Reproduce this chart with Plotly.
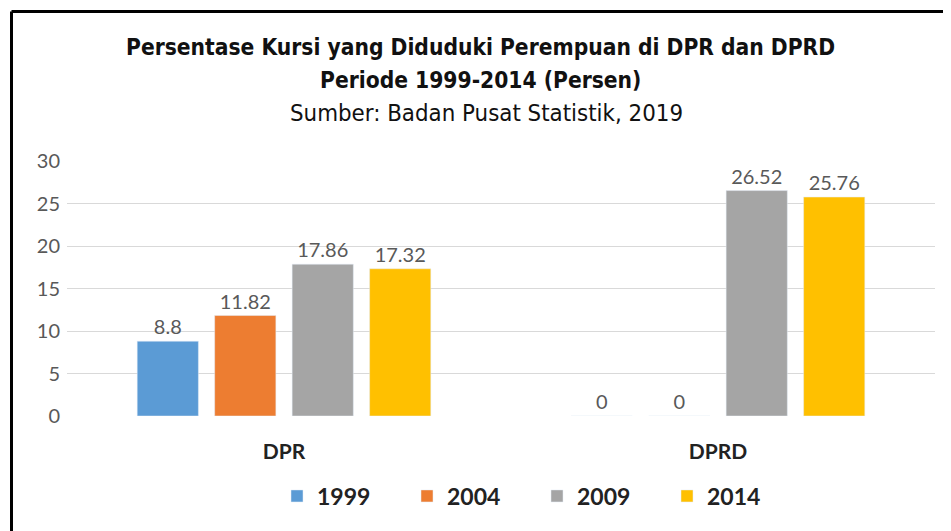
import plotly.graph_objects as go

categories = ["DPR", "DPRD"]
years = ["1999", "2004", "2009", "2014"]
values_1999 = [8.8, 0]
values_2004 = [11.82, 0]
values_2009 = [17.86, 26.52]
values_2014 = [17.32, 25.76]
series = [values_1999, values_2004, values_2009, values_2014]
colors = ["#5B9BD5", "#ED7D31", "#A5A5A5", "#FFC000"]
y_ticks = [0, 5, 10, 15, 20, 25, 30]

fig = go.Figure()
for yr, vals, col in zip(years, series, colors):
    fig.add_trace(go.Bar(
        name=yr, x=categories, y=vals, marker_color=col,
        text=[f"{v:g}" for v in vals], textposition="outside",
        textfont=dict(family="Lato, Open Sans, sans-serif", size=20, color="#595959"),
        cliponaxis=False,
    ))

OFF = 8  # page body margin
W, H = 951 - OFF, 531 - OFF
# plot area in page pixels
PL, PR, PT, PB = 67, 935, 161, 416
L = PL - OFF
R = W - (PR - OFF)
T = PT - OFF
B = H - (PB - OFF)
pw = PR - PL
ph = PB - PT

def px_x(x):
    return (x - PL) / pw

def px_y(y):
    return 1 - (y - PT) / ph

title_font = "DejaVu Sans Condensed, Liberation Sans Narrow, Arial Narrow, sans-serif"
annotations = [
    dict(text="<b>Persentase Kursi yang Diduduki Perempuan di DPR dan DPRD</b>",
         x=px_x(480), y=px_y(47), font=dict(family=title_font, size=22.6, color="#111111")),
    dict(text="<b>Periode 1999-2014 (Persen)</b>",
         x=px_x(480), y=px_y(80), font=dict(family=title_font, size=22.6, color="#111111")),
    dict(text="Sumber: Badan Pusat Statistik, 2019",
         x=px_x(486), y=px_y(113), font=dict(family=title_font, size=23.8, color="#111111")),
]
for a in annotations:
    a.update(xref="paper", yref="paper", showarrow=False, xanchor="center", yanchor="middle")

bx = px_x(11.5)
by = px_y(11.5)
shapes = [
    dict(type="line", xref="paper", yref="paper", x0=bx, x1=bx, y0=px_y(540), y1=by,
         line=dict(color="black", width=3)),
    dict(type="line", xref="paper", yref="paper", x0=bx, x1=px_x(960), y0=by, y1=by,
         line=dict(color="black", width=3)),
]

fig.update_layout(
    width=W, height=H,
    margin=dict(l=L, r=R, t=T, b=B, autoexpand=False),
    paper_bgcolor="white", plot_bgcolor="white",
    barmode="group", bargap=0.286, bargroupgap=0.21,
    annotations=annotations, shapes=shapes,
    legend=dict(orientation="h", x=px_x(277), y=px_y(496), xanchor="left", yanchor="middle",
                entrywidth=85, entrywidthmode="pixels",
                font=dict(family="Lato, Open Sans, sans-serif", size=23, color="#222222", weight="bold")),
    showlegend=True,
)
fig.update_yaxes(range=[0, 30], tickvals=y_ticks, showgrid=True, gridcolor="#D9D9D9", gridwidth=1,
                 zeroline=False, showline=False,
                 tickfont=dict(family="Lato, Open Sans, sans-serif", size=20, color="#595959"),
                 ticks="outside", ticklen=2, tickcolor="rgba(0,0,0,0)")
fig.update_xaxes(showline=False, ticks="outside", ticklen=17, tickcolor="rgba(0,0,0,0)",
                 tickfont=dict(family="Lato, Open Sans, sans-serif", size=21, color="#222222", weight="bold"))

fig.write_html("out.html")
